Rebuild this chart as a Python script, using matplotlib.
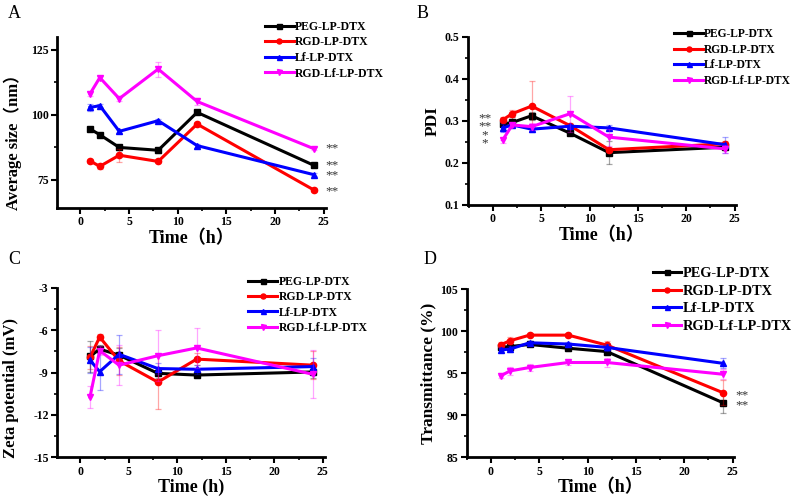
import matplotlib
matplotlib.use('Agg')
import matplotlib.pyplot as plt
from matplotlib.ticker import MultipleLocator

plt.rcParams['font.family'] = ['Liberation Serif', 'Noto Sans CJK SC']
plt.rcParams['font.weight'] = 'bold'

# sampling times (h)
time = [1, 2, 4, 8, 12, 24]
labels = ['PEG-LP-DTX', 'RGD-LP-DTX', 'Lf-LP-DTX', 'RGD-Lf-LP-DTX']
colors = ['black', 'red', 'blue', 'magenta']
markers = ['s', 'o', '^', 'v']

# A: average size (nm)
size_peg = [94.5, 92.3, 87.4, 86.3, 100.9, 80.5]
size_rgd = [82.2, 80.1, 84.4, 82.0, 96.4, 71.0]
size_lf = [102.8, 103.5, 93.6, 97.7, 88.1, 76.9]
size_rgdlf = [108.1, 114.3, 106.2, 117.6, 105.1, 86.9]
size_err_peg = [0.8, 0.6, 0.8, 1.0, 0.8, 0.7]
size_err_rgd = [0.7, 0.9, 2.5, 0.6, 0.8, 0.6]
size_err_lf = [1.5, 0.7, 0.6, 0.7, 0.8, 0.6]
size_err_rgdlf = [1.0, 0.8, 0.8, 2.9, 1.2, 0.6]

# B: PDI
pdi_peg = [0.292, 0.296, 0.312, 0.270, 0.224, 0.237]
pdi_rgd = [0.302, 0.317, 0.335, 0.288, 0.231, 0.245]
pdi_lf = [0.283, 0.290, 0.280, 0.287, 0.283, 0.243]
pdi_rgdlf = [0.254, 0.290, 0.286, 0.317, 0.261, 0.233]
pdi_err_peg = [0.015, 0.012, 0.010, 0.005, 0.027, 0.006]
pdi_err_rgd = [0.006, 0.008, 0.060, 0.006, 0.006, 0.006]
pdi_err_lf = [0.010, 0.005, 0.006, 0.005, 0.006, 0.019]
pdi_err_rgdlf = [0.006, 0.005, 0.008, 0.043, 0.020, 0.010]

# C: zeta potential (mV)
zeta_peg = [-7.85, -7.33, -7.76, -9.05, -9.17, -8.95]
zeta_rgd = [-7.92, -6.48, -8.16, -9.67, -8.04, -8.47]
zeta_lf = [-8.11, -8.93, -7.70, -8.71, -8.76, -8.57]
zeta_rgdlf = [-10.73, -7.44, -8.47, -7.80, -7.25, -9.12]
zeta_err_peg = [1.07, 0.3, 0.5, 0.3, 0.2, 0.4]
zeta_err_rgd = [0.8, 0.2, 1.0, 1.9, 0.4, 1.0]
zeta_err_lf = [0.9, 1.3, 1.4, 0.4, 0.3, 0.6]
zeta_err_rgdlf = [0.77, 0.3, 1.4, 1.8, 1.45, 1.7]

# D: transmittance (%)
trans_peg = [98.1, 98.2, 98.45, 98.0, 97.6, 91.5]
trans_rgd = [98.4, 98.9, 99.56, 99.56, 98.37, 92.7]
trans_lf = [97.8, 97.9, 98.65, 98.5, 98.1, 96.2]
trans_rgdlf = [94.7, 95.3, 95.7, 96.3, 96.3, 94.9]
trans_err_peg = [0.3, 0.3, 0.2, 0.3, 0.4, 1.2]
trans_err_rgd = [0.3, 0.4, 0.2, 0.2, 0.5, 1.5]
trans_err_lf = [0.3, 0.4, 0.2, 0.3, 0.4, 0.6]
trans_err_rgdlf = [0.3, 0.5, 0.4, 0.3, 0.5, 0.6]

fig = plt.figure(figsize=(7.97, 4.98), dpi=100)

panels = [
    dict(letter='A', lpos=(0.01, 0.972), rect=[0.0715, 0.582, 0.337, 0.344], xlim=(-2.4, 25.2),
         ylim=(64, 130), ymaj=25, ymin=12.5, yfmt='%d',
         ylabel='Average size（nm）', ylabfs=12, ylaby=0.41, xlabel='Time（h）',
         ys=[size_peg, size_rgd, size_lf, size_rgdlf],
         errs=[size_err_peg, size_err_rgd, size_err_lf, size_err_rgdlf],
         leg=(0.332, 0.958), legfs=8.5, rowsp=0.3, hl=2.5,
         stars=[(25.9, 86.9, '**'), (25.9, 78.6, '**\n**'), (25.9, 70.5, '**')]),
    dict(letter='B', lpos=(0.522, 0.972), rect=[0.587, 0.589, 0.336, 0.337], xlim=(-2.6, 25.1),
         ylim=(0.1, 0.5), ymaj=0.1, ymin=0.05, yfmt='%.1f',
         ylabel='PDI', ylabfs=12.5, ylaby=0.5, xlabel='Time（h）',
         ys=[pdi_peg, pdi_rgd, pdi_lf, pdi_rgdlf],
         errs=[pdi_err_peg, pdi_err_rgd, pdi_err_lf, pdi_err_rgdlf],
         leg=(0.846, 0.943), legfs=8.3, rowsp=0.3, hl=2.5,
         stars=[(-0.85, 0.276, '**\n**\n*\n*')]),
    dict(letter='C', lpos=(0.01, 0.478), rect=[0.0715, 0.0817, 0.336, 0.340], xlim=(-2.4, 25.2),
         ylim=(-15, -3), ymaj=3, ymin=1.5, yfmt='%d',
         ylabel='Zeta potential (mV)', ylabfs=12, ylaby=0.41, xlabel='Time (h)',
         ys=[zeta_peg, zeta_rgd, zeta_lf, zeta_rgdlf],
         errs=[zeta_err_peg, zeta_err_rgd, zeta_err_lf, zeta_err_rgdlf],
         leg=(0.311, 0.446), legfs=8.5, rowsp=0.28, hl=2.5,
         stars=[]),
    dict(letter='D', lpos=(0.532, 0.478), rect=[0.5855, 0.0817, 0.335, 0.337], xlim=(-2.5, 25.1),
         ylim=(85, 105), ymaj=5, ymin=2.5, yfmt='%d',
         ylabel='Transmittance (%)', ylabfs=12.5, ylaby=0.5, xlabel='Time（h）',
         ys=[trans_peg, trans_rgd, trans_lf, trans_rgdlf],
         errs=[trans_err_peg, trans_err_rgd, trans_err_lf, trans_err_rgdlf],
         leg=(0.819, 0.464), legfs=10.3, rowsp=0.32, hl=2.0,
         stars=[(26.0, 91.75, '**\n**')]),
]

for p in panels:
    ax = fig.add_axes(p['rect'])
    for y, e, c, m, lab in zip(p['ys'], p['errs'], colors, markers, labels):
        ax.errorbar(time, y, yerr=e, fmt='none', ecolor=c, alpha=0.35,
                    elinewidth=0.9, capsize=2, capthick=0.9)
        ax.plot(time, y, color=c, marker=m, markersize=4.5, linewidth=2.2, label=lab)
    ax.set_xlim(p['xlim'])
    ax.set_ylim(p['ylim'])
    ax.xaxis.set_major_locator(MultipleLocator(5))
    ax.xaxis.set_minor_locator(MultipleLocator(2.5))
    ax.yaxis.set_major_locator(MultipleLocator(p['ymaj']))
    ax.yaxis.set_minor_locator(MultipleLocator(p['ymin']))
    ax.yaxis.set_major_formatter(matplotlib.ticker.FormatStrFormatter(p['yfmt']))
    for s in ['top', 'right']:
        ax.spines[s].set_visible(False)
    for s in ['left', 'bottom']:
        ax.spines[s].set_linewidth(2)
    ax.tick_params(which='major', direction='out', length=4, width=1.5, labelsize=8.5, pad=2)
    ax.tick_params(which='minor', direction='out', length=2.5, width=1.2)
    for t in ax.get_xticklabels() + ax.get_yticklabels():
        t.set_fontweight('bold')
    ax.set_xlabel(p['xlabel'], fontsize=13, fontweight='bold', labelpad=1)
    ax.set_ylabel(p['ylabel'], fontsize=p['ylabfs'], fontweight='bold', labelpad=3)
    if p['ylaby'] != 0.5:
        ax.yaxis.set_label_coords(-0.13 if p['letter'] == 'A' else -0.14, p['ylaby'])
    for sx, sy, st in p['stars']:
        ax.text(sx, sy, st, fontsize=9.5, color='#333333', ha='center', va='center',
                fontweight='normal', linespacing=0.75 if st.count('\n') == 1 else 0.62,
                clip_on=False)
    fig.legend(*ax.get_legend_handles_labels(), loc='upper left',
               bbox_to_anchor=p['leg'], frameon=False,
               prop={'weight': 'bold', 'size': p['legfs']},
               handlelength=p['hl'], handletextpad=0.1, labelspacing=p['rowsp'],
               borderaxespad=0, borderpad=0, markerscale=0.8)
    fig.text(p['lpos'][0], p['lpos'][1], p['letter'], fontsize=13,
             fontweight='normal', va='center')

fig.savefig('out.png', dpi=100)
